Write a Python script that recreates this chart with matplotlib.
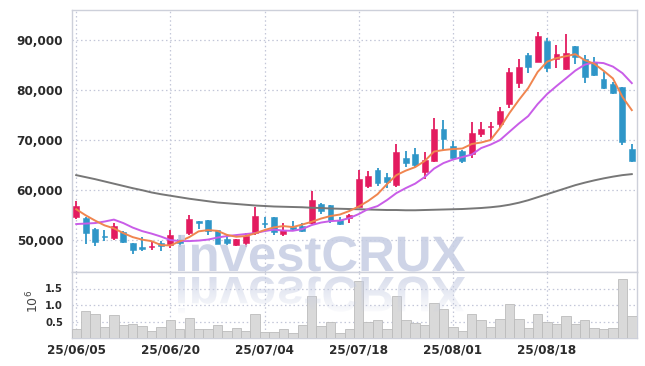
import numpy as np
import matplotlib
matplotlib.use("Agg")
import matplotlib.pyplot as plt
from matplotlib import font_manager
from matplotlib.textpath import TextPath
from matplotlib.patches import PathPatch
from matplotlib.font_manager import FontProperties
from matplotlib.transforms import Affine2D
from matplotlib.ticker import FuncFormatter

# ---------------- data ----------------
dates = [
    "25/06/05", "25/06/09", "25/06/10", "25/06/11", "25/06/12", "25/06/13",
    "25/06/16", "25/06/17", "25/06/18", "25/06/19", "25/06/20",
    "25/06/23", "25/06/24", "25/06/25", "25/06/26", "25/06/27",
    "25/06/30", "25/07/01", "25/07/02", "25/07/03", "25/07/04",
    "25/07/07", "25/07/08", "25/07/09", "25/07/10", "25/07/11",
    "25/07/14", "25/07/15", "25/07/16", "25/07/17", "25/07/18",
    "25/07/21", "25/07/22", "25/07/23", "25/07/24", "25/07/25",
    "25/07/28", "25/07/29", "25/07/30", "25/07/31", "25/08/01",
    "25/08/04", "25/08/05", "25/08/06", "25/08/07", "25/08/08",
    "25/08/11", "25/08/12", "25/08/13", "25/08/14",
    "25/08/18", "25/08/19", "25/08/20", "25/08/21", "25/08/22",
    "25/08/25", "25/08/26", "25/08/27", "25/08/28", "25/08/29",
]
open_ = [54700, 54500, 52250, 50850, 50400, 51700, 49500, 48650, 48750, 49550,
         49050, 50200, 51400, 53800, 54050, 52050, 50200, 49050, 49400, 51400,
         53500, 54600, 51250, 52700, 52850, 53400, 57250, 57050, 54050, 54550,
         56700, 60900, 64000, 62650, 61000, 66350, 67200, 63650, 65900, 72100,
         68800, 67800, 67200, 71100, 72550, 73150, 77150, 81450, 86900, 85600,
         89750, 86100, 84050, 88750, 86100, 85450, 82150, 81250, 80600, 68200]
high = [57900, 54600, 52500, 52000, 53400, 51900, 49500, 50700, 49850, 49900,
        52100, 51050, 55050, 53900, 54100, 52100, 51200, 50300, 51400, 56600,
        54600, 54650, 53500, 53850, 53400, 59900, 57500, 57100, 54600, 55250,
        64100, 63800, 64350, 63350, 69300, 67850, 68350, 67650, 74300, 73950,
        69850, 68000, 73650, 73500, 73650, 76500, 84250, 86100, 87250, 91550,
        90350, 88900, 91050, 88800, 86900, 86450, 83600, 81600, 80650, 69300]
low = [54200, 49300, 48900, 49800, 50050, 49500, 47300, 47950, 48050, 47850,
       48500, 48700, 51050, 52200, 51050, 49250, 49000, 48850, 48700, 51050,
       52400, 51050, 50850, 51900, 51700, 53250, 55250, 53400, 53050, 53400,
       56600, 60350, 60800, 60350, 60700, 64550, 64550, 62150, 65650, 68100,
       66000, 65350, 66500, 70500, 70100, 72300, 76300, 80300, 83300, 85450,
       83600, 84400, 84000, 85050, 81450, 82800, 80200, 79100, 69000, 65650]
close = [56800, 51400, 49700, 50600, 52850, 49600, 48050, 48300, 48950, 48850,
         51050, 49400, 54200, 53400, 51800, 49350, 49500, 50250, 50850, 54850,
         53300, 51700, 52050, 52250, 51900, 58050, 55900, 54050, 53200, 55050,
         62150, 62800, 61350, 61650, 67650, 65450, 65000, 66000, 72100, 70150,
         66450, 65850, 71450, 72150, 72700, 75750, 83600, 84600, 84600, 90750,
         84250, 87050, 87250, 86550, 82600, 82950, 80300, 79400, 69650, 65800]
ma_short = [56200, 55000, 53950, 53000, 52400, 51450, 50650, 50150, 49850, 49060,
            49000, 49800, 50650, 51800, 52050, 51900, 51100, 50720, 50860, 51400,
            52050, 52600, 52850, 52650, 53150, 53700, 54350, 54850, 55150, 55850,
            56750, 57850, 59200, 61200, 63000, 63900, 64600, 65800, 67700, 68000,
            68200, 68300, 69200, 69500, 70000, 72400, 75350, 77950, 80350, 83550,
            85600, 86300, 86700, 87100, 85900, 85200, 83800, 82250, 78600, 75950]
ma_mid = [53250, 53350, 53450, 53750, 54140, 53450, 52550, 51850, 51350, 50760,
          50060, 49860, 49860, 49960, 50160, 50560, 50860, 51060, 51260, 51450,
          51850, 52150, 51950, 51910, 52250, 53050, 53550, 53840, 53940, 54440,
          55240, 56240, 56830, 58030, 59420, 60420, 61310, 62610, 64300, 65400,
          66100, 66600, 67090, 68390, 69080, 69980, 71630, 73270, 74760, 77150,
          79140, 80740, 82270, 83820, 85010, 85460, 85320, 84620, 83330, 81330]
ma_long = [63000, 62600, 62200, 61750, 61300, 60850, 60400, 60000, 59550, 59200,
           58900, 58600, 58300, 58050, 57800, 57550, 57400, 57250, 57100, 56950,
           56850, 56750, 56700, 56650, 56600, 56500, 56450, 56350, 56300, 56250,
           56200, 56150, 56100, 56050, 56050, 56000, 56000, 56050, 56100, 56150,
           56200, 56250, 56350, 56450, 56600, 56800, 57100, 57500, 58000, 58600,
           59200, 59800, 60400, 61000, 61500, 61950, 62350, 62700, 63000, 63200]
volume_m = [0.26, 0.83, 0.74, 0.32, 0.71, 0.38, 0.42, 0.35, 0.20, 0.32,
            0.56, 0.26, 0.62, 0.26, 0.26, 0.38, 0.20, 0.29, 0.20, 0.74,
            0.17, 0.17, 0.26, 0.14, 0.38, 1.26, 0.36, 0.47, 0.14, 0.26,
            1.74, 0.49, 0.54, 0.26, 1.26, 0.56, 0.46, 0.39, 1.07, 0.87,
            0.34, 0.21, 0.74, 0.56, 0.32, 0.59, 1.04, 0.59, 0.29, 0.74,
            0.47, 0.42, 0.68, 0.42, 0.56, 0.29, 0.26, 0.29, 1.79, 0.66]
tick_dates = ["25/06/05", "25/06/20", "25/07/04", "25/07/18", "25/08/01", "25/08/18"]
price_ticks = [50000, 60000, 70000, 80000, 90000]
volume_ticks = [0.5, 1.0, 1.5]
watermark = "investCRUX"

# ---------------- fonts ----------------
cond = []
for f in font_manager.fontManager.ttflist:
    st = f.stretch
    is_cond = ("Narrow" in f.name or "Condensed" in f.name
               or st in ("condensed", "semi-condensed", "extra-condensed", "ultra-condensed")
               or (isinstance(st, (int, float)) and st < 500))
    if is_cond:
        cond.append(f)
cond.sort(key=lambda f: (0 if str(f.weight) in ("bold", "700") else 1))
if cond:
    LF = dict(family=cond[0].name, stretch=cond[0].stretch, weight="bold")
    big, small = 9.6, 8.0
else:
    LF = dict(family="Liberation Sans", weight="bold")
    big, small = 9.2, 8.0

RED = "#e31b5f"
BLUE = "#2f96c8"
GRID = "#c3c7d8"
SPINE = "#cdd0da"
TXT = "#2b2b2b"

W, H = 645, 366
fig = plt.figure(figsize=(W / 100, H / 100), dpi=100)


def rect(l, t, r, b):
    return [l / W, 1 - b / H, (r - l) / W, (b - t) / H]


ax = fig.add_axes(rect(71.5, 9.5, 636.5, 272))
axv = fig.add_axes(rect(71.5, 272, 636.5, 338), sharex=ax)

x = np.arange(len(dates))
o = np.array(open_, float)
c = np.array(close, float)
hi = np.array(high, float)
lo = np.array(low, float)
cols = np.where(c >= o, RED, BLUE)

ax.vlines(x, lo, hi, colors=cols, lw=1.3, zorder=3)
body_h = np.maximum(np.abs(c - o), 230)
body_b = (o + c) / 2 - body_h / 2
ax.bar(x, body_h, bottom=body_b, width=0.62, color=cols, edgecolor=cols,
       linewidth=0.4, zorder=4)

ax.plot(x, ma_long, color="#777777", lw=1.4, zorder=5)
ax.plot(x, ma_mid, color="#c95de8", lw=1.4, zorder=5)
ax.plot(x, ma_short, color="#f0854f", lw=1.4, zorder=6)

ax.set_xlim(-0.5, len(dates) - 0.5)
ax.set_ylim(43700, 96000)
tick_pos = [dates.index(d) for d in tick_dates]
ax.set_yticks(price_ticks)
ax.yaxis.set_major_formatter(FuncFormatter(lambda v, p: f"{int(v):,}"))
ax.set_xticks(tick_pos)
ax.tick_params(axis="x", length=0, labelbottom=False)
ax.tick_params(axis="y", length=0, pad=6, labelcolor=TXT)
for lab in ax.get_yticklabels():
    lab.set_fontproperties(FontProperties(size=big, **LF))
ax.grid(True, color=GRID, linestyle=(0, (1.2, 2.2)), lw=0.9)
for s in ax.spines.values():
    s.set_color(SPINE)
    s.set_linewidth(1.0)

axv.bar(x, volume_m, width=1.0, color="#d9d9d9", edgecolor="#bcbcbc", lw=0.6, zorder=3)
axv.set_ylim(0, 2.0)
axv.set_yticks(volume_ticks)
axv.set_yticklabels([f"{v:.1f}" for v in volume_ticks])
axv.set_xticks(tick_pos)
axv.set_xticklabels(tick_dates)
axv.tick_params(axis="x", length=0, pad=4, labelcolor=TXT)
axv.tick_params(axis="y", length=0, pad=6, labelcolor=TXT)
for lab in axv.get_xticklabels():
    lab.set_fontproperties(FontProperties(size=big, **LF))
for lab in axv.get_yticklabels():
    lab.set_fontproperties(FontProperties(size=small, **LF))
axv.grid(True, color=GRID, linestyle=(0, (1.2, 2.2)), lw=0.9, zorder=0)
axv.set_axisbelow(True)
for s in axv.spines.values():
    s.set_color(SPINE)
    s.set_linewidth(1.0)

fig.text(33 / W, 1 - 301 / H, r"$10^6$", rotation=90, ha="center", va="center",
         fontsize=9, color="#444444")

# ---------------- watermark overlay ----------------
ov = fig.add_axes([0, 0, 1, 1], zorder=10)
ov.set_xlim(0, W)
ov.set_ylim(H, 0)
ov.axis("off")
ov.patch.set_alpha(0)

fp = FontProperties(family="Liberation Sans", weight="bold")
tp = TextPath((0, 0), watermark, size=50, prop=fp)
ext = tp.get_extents()
sx = (465 - 178) / ext.width
left, base = 178, 271
main_tr = Affine2D().translate(-ext.x0, 0).scale(sx, -sx * 0.98).translate(left, base) + ov.transData
ov.add_patch(PathPatch(tp, facecolor="#c6cde3", edgecolor="none", alpha=0.85,
                       transform=main_tr, zorder=2))

refl_tr = Affine2D().translate(-ext.x0, 0).scale(sx, sx * 0.98).translate(left, base + 6) + ov.transData
refl = PathPatch(tp, facecolor="none", edgecolor="none", transform=refl_tr)
ov.add_patch(refl)
grad = np.zeros((60, 2, 4))
grad[..., 0] = 198 / 255
grad[..., 1] = 205 / 255
grad[..., 2] = 227 / 255
grad[..., 3] = np.linspace(0.7, 0.0, 60)[:, None]
im = ov.imshow(grad, extent=(170, 475, base + 46, base + 4), aspect="auto",
               interpolation="bilinear", zorder=1)
im.set_clip_path(refl)
ov.set_xlim(0, W)
ov.set_ylim(H, 0)

fig.savefig("out.png", dpi=100)
